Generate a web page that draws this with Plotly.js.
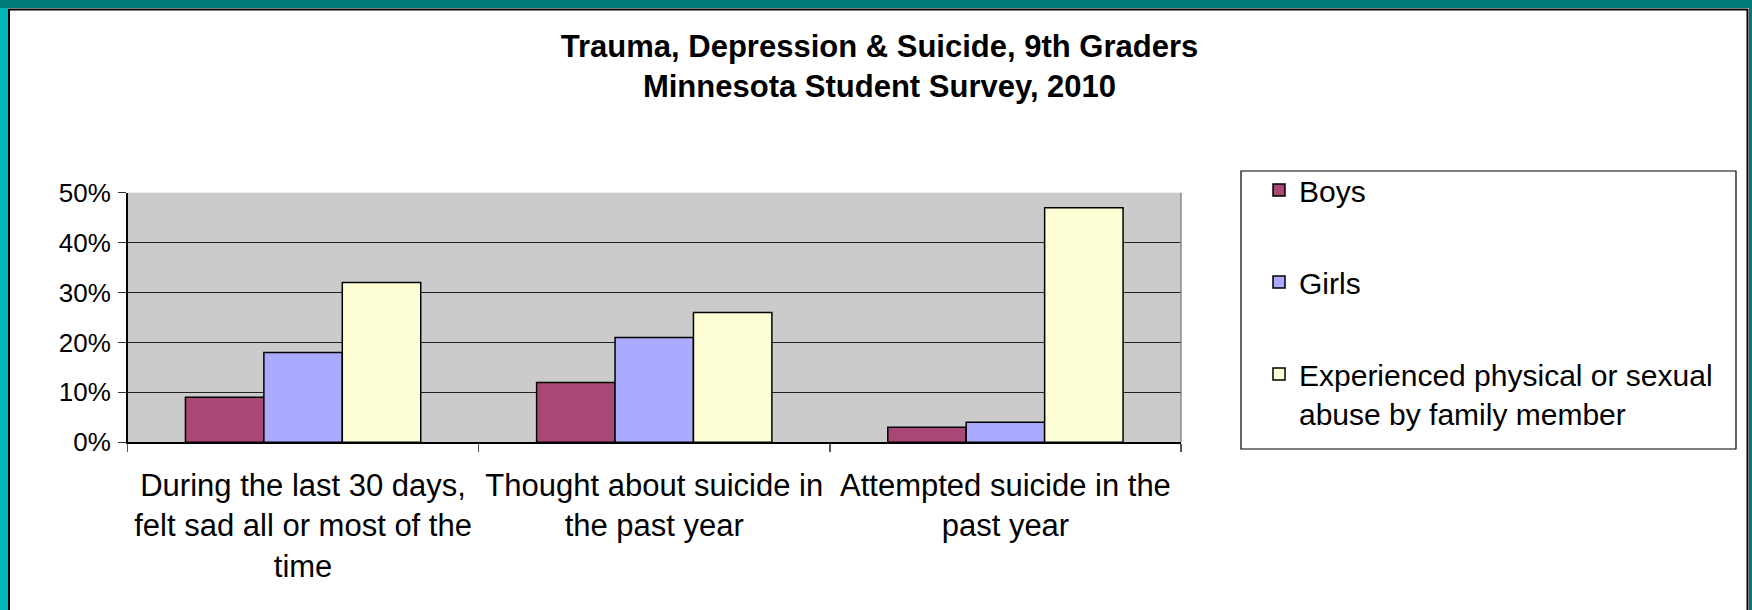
<!DOCTYPE html>
<html>
<head>
<meta charset="utf-8">
<script src="https://cdn.plot.ly/plotly-3.0.1.min.js"></script>
<style>
html,body{margin:0;padding:0;background:#fff;}
#chart{width:1752px;height:610px;}
</style>
</head>
<body>
<div id="chart"></div>
<script>
// ---- data ----
const categories = [
  "During the last 30 days,<br>felt sad all or most of the<br>time",
  "Thought about suicide in<br>the past year",
  "Attempted suicide in the<br>past year"
];
const seriesNames = ["Boys", "Girls", "Experienced physical or sexual<br>abuse by family member"];
const boys = [9, 12, 3];
const girls = [18, 21, 4];
const abused = [32, 26, 47];
const yTickVals = [0, 10, 20, 30, 40, 50];
const yTickText = ["0%", "10%", "20%", "30%", "40%", "50%"];
const titleText = "<b>Trauma, Depression & Suicide, 9th Graders<br>Minnesota Student Survey, 2010</b>";

// ---- layout helpers (px -> paper fractions) ----
const W = 1752, H = 610;
const px = x => x / W;
const py = y => (H - y) / H;

const FONT = "Liberation Sans, Arial, sans-serif";
const colors = ["#A94876", "#AAAAFF", "#FFFFD6"];
const values = [boys, girls, abused];

const traces = values.map((v, i) => ({
  type: "bar",
  x: categories,
  y: v,
  name: seriesNames[i],
  legendgroup: "g" + i,
  marker: {color: colors[i], line: {color: "#000", width: 1.5}},
  hoverinfo: "skip"
}));

const layout = {
  width: W, height: H,
  margin: {l: 0, r: 0, t: 0, b: 0},
  paper_bgcolor: "#FFFFFF",
  plot_bgcolor: "#CBCBCB",
  font: {family: FONT, color: "#000"},
  title: {
    text: titleText,
    font: {family: FONT, size: 31, color: "#000"},
    x: 0.502, xanchor: "center",
    y: py(57), yanchor: "top"
  },
  barmode: "group",
  bargap: 0.33,
  bargroupgap: 0,
  showlegend: true,
  legend: {
    x: px(1259), xanchor: "left",
    y: py(164), yanchor: "top",
    bgcolor: "rgba(0,0,0,0)",
    borderwidth: 0,
    font: {family: FONT, size: 30, color: "#000"},
    tracegroupgap: 50,
    valign: "top",
    traceorder: "grouped"
  },
  xaxis: {
    domain: [px(127.5), px(1181)],
    type: "category",
    showline: true, linecolor: "#000", linewidth: 1.5,
    ticks: "outside", ticklen: 8, tickcolor: "#555", tickwidth: 1.5,
    tickson: "boundaries",
    showgrid: false,
    tickfont: {family: FONT, size: 31, color: "#000"},
    ticklabelstandoff: 15,
    automargin: false,
    fixedrange: true
  },
  yaxis: {
    domain: [py(442.3), py(192.7)],
    range: [0, 50],
    tickvals: yTickVals,
    ticktext: yTickText,
    showline: true, linecolor: "#000", linewidth: 1.5,
    ticks: "outside", ticklen: 8, tickcolor: "#333", tickwidth: 1.5,
    showgrid: true, gridcolor: "#222", gridwidth: 1.2,
    zeroline: false,
    tickfont: {family: FONT, size: 26, color: "#000"},
    ticklabelstandoff: 2,
    automargin: false,
    fixedrange: true
  },
  shapes: [
    // teal slide frame
    {type: "rect", xref: "paper", yref: "paper", x0: 0, x1: 1, y0: py(8), y1: 1,
     fillcolor: "#007A7A", line: {width: 0}, layer: "below"},
    {type: "rect", xref: "paper", yref: "paper", x0: 0, x1: px(8), y0: 0, y1: py(8),
     fillcolor: "#00B8B8", line: {width: 0}, layer: "below"},
    {type: "rect", xref: "paper", yref: "paper", x0: px(1749), x1: 1, y0: 0, y1: py(8),
     fillcolor: "#007A7A", line: {width: 0}, layer: "below"},
    // chart area frame
    {type: "rect", xref: "paper", yref: "paper", x0: px(9), x1: px(1747.5), y0: py(615), y1: py(9.5),
     fillcolor: "rgba(0,0,0,0)", line: {color: "#000", width: 2}},
    // plot area right border
    {type: "line", xref: "paper", yref: "paper", x0: px(1181), x1: px(1181), y0: py(442.3), y1: py(192.7),
     line: {color: "#8A8A8A", width: 1.5}},
    // legend box
    {type: "rect", xref: "paper", yref: "paper", x0: px(1241), x1: px(1736), y0: py(449), y1: py(171),
     fillcolor: "rgba(0,0,0,0)", line: {color: "#000", width: 1.2}}
  ]
};

Plotly.newPlot("chart", traces, layout, {displayModeBar: false, staticPlot: true});
</script>
</body>
</html>
